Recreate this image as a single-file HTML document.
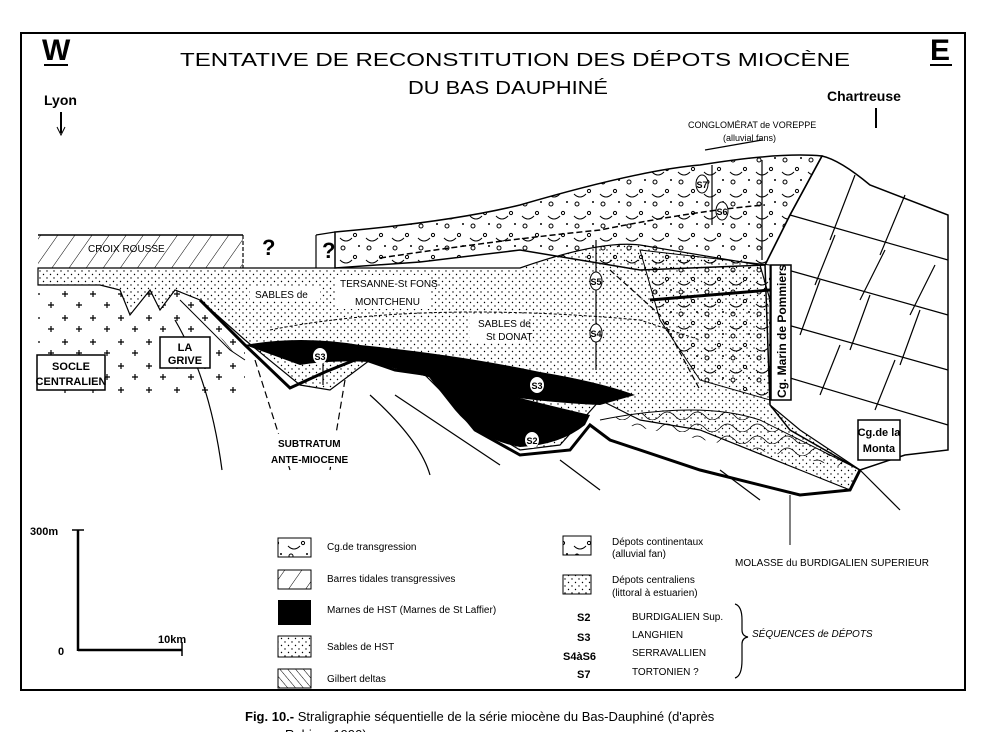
<!DOCTYPE html>
<html><head><meta charset="utf-8"><style>
html,body{margin:0;padding:0;background:#fff;}
svg{display:block;}
text{font-family:"Liberation Sans",sans-serif;fill:#000;}
.n{font-family:"Liberation Sans Narrow","Liberation Sans",sans-serif;}
</style></head><body>
<svg width="988" height="732" viewBox="0 0 988 732" xmlns="http://www.w3.org/2000/svg">
<defs>
<pattern id="dots" width="7" height="7" patternUnits="userSpaceOnUse"><circle cx="1.5" cy="1.5" r="0.7" fill="#000"/><circle cx="5" cy="5" r="0.7" fill="#000"/></pattern>
<pattern id="hatch" width="14" height="14" patternUnits="userSpaceOnUse" patternTransform="rotate(35)"><line x1="0" y1="0" x2="0" y2="14" stroke="#000" stroke-width="1"/></pattern>
<pattern id="hatch2" width="6" height="6" patternUnits="userSpaceOnUse" patternTransform="rotate(-40)"><line x1="0" y1="0" x2="0" y2="6" stroke="#000" stroke-width="1"/></pattern>
<pattern id="cg" width="26" height="22" patternUnits="userSpaceOnUse"><circle cx="5" cy="6" r="2" fill="none" stroke="#000"/><circle cx="17" cy="15" r="1.6" fill="none" stroke="#000"/><path d="M2 18 q6 6 12 0" fill="none" stroke="#000"/><circle cx="21" cy="4" r="1" fill="#000"/></pattern>
<pattern id="plus" width="28" height="24" patternUnits="userSpaceOnUse"><path d="M6 6h6M9 3v6M20 17h6M23 14v6" stroke="#000" stroke-width="1.2"/></pattern>
<pattern id="wave" width="30" height="12" patternUnits="userSpaceOnUse"><path d="M0 8 q7 -8 15 0 q7 8 15 0" fill="none" stroke="#000" stroke-width="0.8"/></pattern>
</defs>

<rect x="21" y="33" width="944" height="657" fill="none" stroke="#000" stroke-width="2"/>

<text x="42" y="60" font-size="30" font-weight="bold">W</text>
<line x1="44" y1="65" x2="68" y2="65" stroke="#000" stroke-width="2"/>
<text x="930" y="60" font-size="30" font-weight="bold">E</text>
<line x1="930" y1="65" x2="952" y2="65" stroke="#000" stroke-width="2"/>
<text x="180" y="66" font-size="18" font-family="Liberation Serif" textLength="670" lengthAdjust="spacingAndGlyphs">TENTATIVE DE RECONSTITUTION  DES DÉPOTS MIOCÈNE</text>
<text x="408" y="94" font-size="18" font-family="Liberation Serif" textLength="200" lengthAdjust="spacingAndGlyphs">DU BAS DAUPHINÉ</text>
<text x="44" y="105" font-size="14" font-weight="bold" class="n">Lyon</text>
<line x1="61" y1="112" x2="61" y2="133" stroke="#000" stroke-width="2"/><path d="M57 127 L61 135 L65 127" fill="none" stroke="#000"/>
<text x="827" y="101" font-size="14" font-weight="bold" class="n">Chartreuse</text>
<line x1="876" y1="108" x2="876" y2="128" stroke="#000" stroke-width="2"/>

<path d="M822 156 Q840 160 870 185 L948 215 L948 450 L905 455 L860 470 L790 430 L770 405 L765 265 L790 215 Z" fill="#fff" stroke="#000" stroke-width="1.5"/>
<g stroke="#000" stroke-width="1.2">
<line x1="790" y1="215" x2="948" y2="260"/><line x1="770" y1="265" x2="948" y2="315"/><line x1="770" y1="320" x2="948" y2="370"/><line x1="780" y1="375" x2="948" y2="425"/>
<line x1="855" y1="175" x2="830" y2="240"/><line x1="905" y1="195" x2="880" y2="255"/><line x1="835" y1="235" x2="815" y2="285"/><line x1="885" y1="250" x2="860" y2="300"/><line x1="935" y1="265" x2="910" y2="315"/>
<line x1="820" y1="280" x2="800" y2="335"/><line x1="870" y1="295" x2="850" y2="350"/><line x1="920" y1="310" x2="900" y2="365"/><line x1="840" y1="345" x2="820" y2="395"/><line x1="895" y1="360" x2="875" y2="410"/>
</g>

<path d="M335 232 Q450 222 520 205 Q640 170 700 165 Q780 152 822 156 L790 215 L765 265 L640 270 L520 250 L420 262 L335 268 Z" fill="url(#cg)" stroke="#000" stroke-width="1.5"/>
<path d="M380 258 Q500 240 600 230 Q700 210 765 205" fill="none" stroke="#000" stroke-width="1.5" stroke-dasharray="6 3"/>

<rect x="38" y="235" width="205" height="33" fill="url(#hatch)" stroke="none"/>
<line x1="38" y1="235" x2="243" y2="235" stroke="#000" stroke-width="1.5"/>
<line x1="243" y1="235" x2="243" y2="268" stroke="#000" stroke-width="1.2" stroke-dasharray="4 2"/>
<text x="88" y="252" font-size="10" class="n">CROIX ROUSSE</text>
<line x1="316" y1="268" x2="316" y2="235" stroke="#000" stroke-width="1.2"/><line x1="316" y1="235" x2="335" y2="232" stroke="#000" stroke-width="1.2"/>
<text x="262" y="255" font-size="22" font-weight="bold">?</text>
<text x="322" y="258" font-size="22" font-weight="bold">?</text>

<path d="M38 268 L38 395 L245 395 L245 340 L175 290 L160 310 L150 290 L130 315 L120 290 L100 285 L38 285 Z" fill="url(#plus)"/>

<path d="M38 268 L520 268 Q600 240 640 245 L760 265 L770 300 L770 405 L800 430 L860 470 L850 490 L800 470 L700 430 L640 420 L600 400 L560 445 L520 450 L470 420 L420 370 L370 360 L330 390 L300 385 L245 340 L200 300 L175 290 L160 310 L150 290 L130 315 L120 290 L100 285 L38 285 Z" fill="url(#dots)" stroke="#000" stroke-width="1.2"/>
<path d="M270 330 Q420 300 640 320 L700 340" fill="none" stroke="#000" stroke-width="1" stroke-dasharray="3 2"/>
<path d="M610 270 L660 315 L700 390" fill="none" stroke="#000" stroke-width="1.2" stroke-dasharray="6 3"/>
<path d="M640 250 L770 265 L770 400 L700 380 L660 320 Z" fill="url(#cg)" stroke="#000" stroke-width="1"/>
<line x1="650" y1="300" x2="770" y2="290" stroke="#000" stroke-width="3"/>
<path d="M600 420 Q700 400 760 420 Q820 450 860 470" fill="url(#wave)" stroke="#000" stroke-width="1"/>

<path d="M245 345 Q300 335 360 345 Q460 355 540 372 Q600 382 635 395 L600 405 Q540 402 500 395 Q420 375 370 362 Q330 360 300 365 Z" fill="#000"/>
<path d="M425 372 Q470 385 520 398 Q560 408 590 415 L585 425 Q560 445 520 447 Q480 440 455 410 Z" fill="#000"/>
<path d="M200 300 L245 345 L290 388 L325 372 L360 358 L395 370 L430 375 L475 430 L520 455 L570 450 L590 425 L610 440 L700 470 L800 495 L850 490 L860 470" fill="none" stroke="#000" stroke-width="3"/>
<path d="M180 300 L230 350 L245 360" fill="url(#hatch2)" stroke="#000" stroke-width="1"/>

<g fill="none" stroke="#000" stroke-width="1.2">
<path d="M175 320 Q210 380 222 470"/>
<path d="M255 360 L290 470" stroke-dasharray="7 4"/>
<path d="M345 380 L330 470" stroke-dasharray="7 4"/>
<path d="M370 395 Q420 440 430 475"/>
<path d="M395 395 L500 465"/>
<path d="M560 460 L600 490"/>
<path d="M720 470 L760 500"/>
<path d="M860 470 L900 510"/>
</g>

<g stroke="#000" stroke-width="1.2"><line x1="596" y1="240" x2="596" y2="370"/><line x1="762" y1="160" x2="762" y2="260"/><line x1="712" y1="165" x2="712" y2="225"/><line x1="705" y1="150" x2="762" y2="140"/><line x1="537" y1="380" x2="537" y2="430"/><line x1="323" y1="350" x2="323" y2="385"/></g>
<g font-size="9" font-weight="bold" text-anchor="middle" class="n">
<ellipse cx="702" cy="184" rx="6" ry="9" fill="#fff" stroke="#000"/><text x="702" y="188">S7</text>
<ellipse cx="722" cy="211" rx="6" ry="9" fill="#fff" stroke="#000"/><text x="722" y="215">S6</text>
<ellipse cx="596" cy="281" rx="6" ry="9" fill="#fff" stroke="#000"/><text x="596" y="285">S5</text>
<ellipse cx="596" cy="333" rx="6" ry="9" fill="#fff" stroke="#000"/><text x="596" y="337">S4</text>
<ellipse cx="320" cy="356" rx="7" ry="8" fill="#fff"/><text x="320" y="360">S3</text>
<ellipse cx="537" cy="385" rx="7" ry="8" fill="#fff"/><text x="537" y="389">S3</text>
<ellipse cx="532" cy="440" rx="7" ry="8" fill="#fff"/><text x="532" y="444">S2</text>
</g>

<g class="n" font-size="10">
<text x="688" y="128" font-size="9">CONGLOMÉRAT de VOREPPE</text>
<text x="723" y="141" font-size="9">(alluvial fans)</text>
<rect x="250" y="287" width="70" height="13" fill="#fff"/><text x="255" y="298">SABLES de</text>
<rect x="336" y="275" width="95" height="34" fill="#fff"/><text x="340" y="287">TERSANNE-St FONS</text><text x="355" y="305">MONTCHENU</text>
<rect x="470" y="315" width="58" height="28" fill="#fff"/><text x="478" y="327">SABLES de</text><text x="486" y="340">St DONAT</text>
<rect x="270" y="434" width="85" height="32" fill="#fff"/><text x="278" y="447" font-weight="bold">SUBTRATUM</text><text x="271" y="463" font-weight="bold">ANTE-MIOCENE</text>
</g>
<rect x="37" y="355" width="68" height="35" fill="#fff" stroke="#000" stroke-width="1.5"/>
<text x="71" y="370" font-size="11" font-weight="bold" text-anchor="middle">SOCLE</text><text x="71" y="385" font-size="11" font-weight="bold" text-anchor="middle">CENTRALIEN</text>
<rect x="160" y="337" width="50" height="31" fill="#fff" stroke="#000" stroke-width="1.5"/>
<text x="185" y="351" font-size="11" font-weight="bold" text-anchor="middle">LA</text><text x="185" y="364" font-size="11" font-weight="bold" text-anchor="middle">GRIVE</text>
<rect x="771" y="265" width="20" height="135" fill="#fff" stroke="#000" stroke-width="1.5"/>
<text transform="translate(786,398) rotate(-90)" font-size="12" font-weight="bold">Cg. Marin de Pommiers</text>
<rect x="858" y="420" width="42" height="40" fill="#fff" stroke="#000" stroke-width="1.5"/>
<text x="879" y="436" font-size="11" font-weight="bold" text-anchor="middle">Cg.de la</text><text x="879" y="452" font-size="11" font-weight="bold" text-anchor="middle">Monta</text>
<line x1="790" y1="495" x2="790" y2="545" stroke="#000"/>
<text x="735" y="566" font-size="10" class="n">MOLASSE du BURDIGALIEN SUPERIEUR</text>

<line x1="78" y1="530" x2="78" y2="651" stroke="#000" stroke-width="2.5"/>
<line x1="78" y1="650" x2="182" y2="650" stroke="#000" stroke-width="2.5"/>
<line x1="72" y1="530" x2="84" y2="530" stroke="#000" stroke-width="1.5"/>
<line x1="182" y1="642" x2="182" y2="656" stroke="#000" stroke-width="1.5"/>
<text x="30" y="535" font-size="11" font-weight="bold">300m</text>
<text x="58" y="655" font-size="11" font-weight="bold">0</text>
<text x="158" y="643" font-size="11" font-weight="bold">10km</text>

<rect x="278" y="538" width="33" height="19" fill="url(#cg)" stroke="#000"/>
<text x="327" y="550" font-size="10" class="n">Cg.de transgression</text>
<rect x="278" y="570" width="33" height="19" fill="url(#hatch)" stroke="#000"/>
<text x="327" y="582" font-size="10" class="n">Barres tidales transgressives</text>
<rect x="278" y="600" width="33" height="25" fill="#000"/>
<text x="327" y="613" font-size="10" class="n">Marnes de HST  (Marnes de St Laffier)</text>
<rect x="278" y="636" width="33" height="21" fill="url(#dots)" stroke="#000"/>
<text x="327" y="650" font-size="10" class="n">Sables de HST</text>
<rect x="278" y="669" width="33" height="19" fill="url(#hatch2)" stroke="#000"/>
<text x="327" y="682" font-size="10" class="n">Gilbert deltas</text>
<rect x="563" y="536" width="28" height="19" fill="url(#cg)" stroke="#000"/>
<text x="612" y="545" font-size="10" class="n">Dépots continentaux</text><text x="612" y="557" font-size="10" class="n">(alluvial fan)</text>
<rect x="563" y="575" width="28" height="19" fill="url(#dots)" stroke="#000"/>
<text x="612" y="583" font-size="10" class="n">Dépots centraliens</text><text x="612" y="596" font-size="10" class="n">(littoral à estuarien)</text>
<g font-size="11" font-weight="bold" class="n"><text x="577" y="621">S2</text><text x="577" y="641">S3</text><text x="563" y="660">S4àS6</text><text x="577" y="678">S7</text></g>
<g font-size="10" class="n"><text x="632" y="620">BURDIGALIEN Sup.</text><text x="632" y="638">LANGHIEN</text><text x="632" y="656">SERRAVALLIEN</text><text x="632" y="675">TORTONIEN ?</text></g>
<path d="M735 604 Q742 606 742 620 L742 630 Q742 636 748 637 Q742 638 742 644 L742 660 Q742 676 735 678" fill="none" stroke="#000" stroke-width="1.2"/>
<text x="752" y="637" font-size="10" font-style="italic" class="n">SÉQUENCES de DÉPOTS</text>

<text x="245" y="721" font-size="13" font-family="Liberation Serif"><tspan font-weight="bold">Fig. 10.-</tspan> Straligraphie séquentielle de la série miocène du Bas-Dauphiné (d'après</text>
<text x="285" y="739" font-size="13" font-family="Liberation Serif">Rubino, 1990)</text>
</svg>
</body></html>
